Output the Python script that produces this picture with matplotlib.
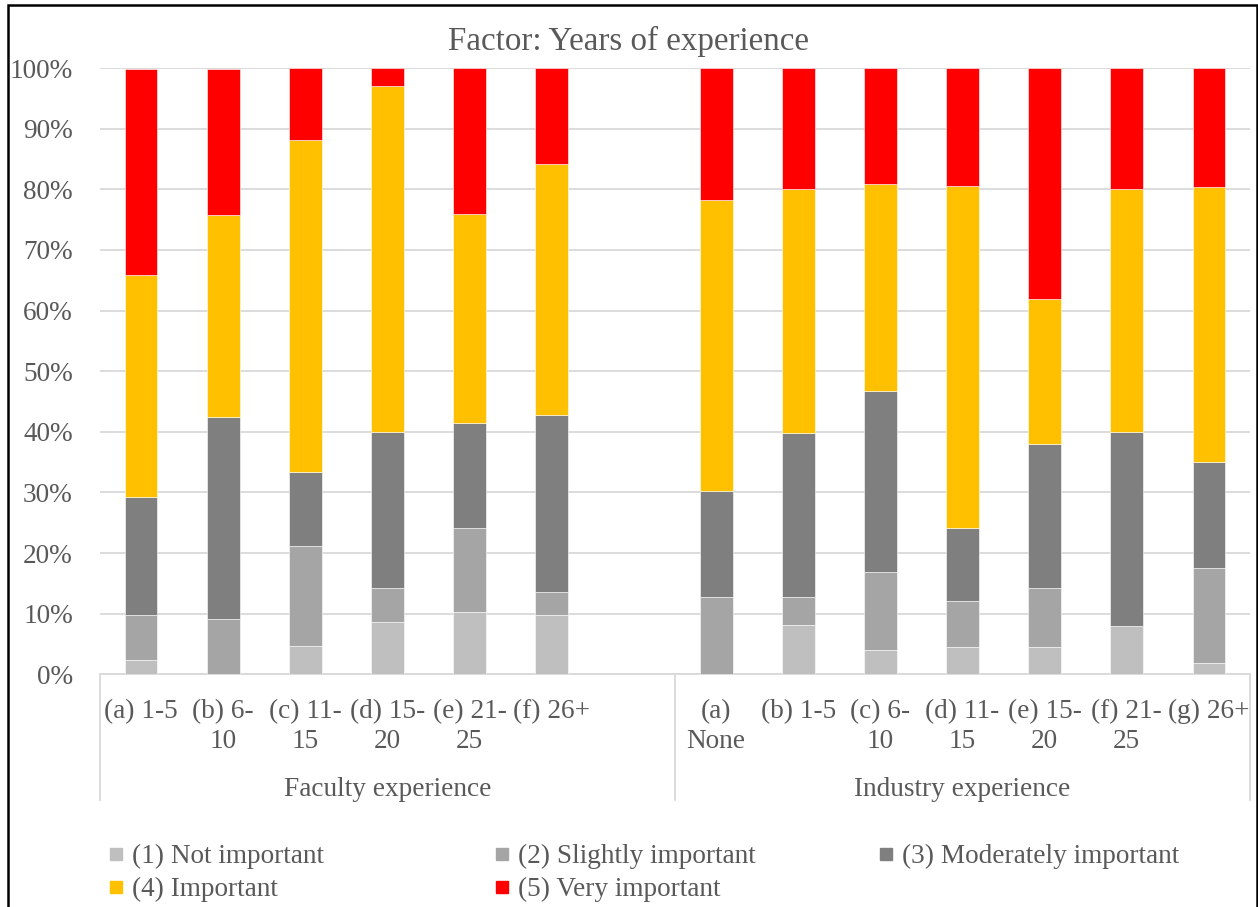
import matplotlib
matplotlib.use("Agg")
import matplotlib.pyplot as plt
from matplotlib.lines import Line2D
from matplotlib.patches import Rectangle
import numpy as np

plt.rcParams['font.family'] = ['Liberation Serif', 'DejaVu Serif']

# ---- data (percent of respondents) ----
title = "Factor: Years of experience"
group_names = ["Faculty experience", "Industry experience"]

faculty_labels = ["(a) 1-5", "(b) 6-\n10", "(c) 11-\n15", "(d) 15-\n20", "(e) 21-\n25", "(f) 26+"]
industry_labels = ["(a)\nNone", "(b) 1-5", "(c) 6-\n10", "(d) 11-\n15", "(e) 15-\n20", "(f) 21-\n25", "(g) 26+"]

series_names = ["(1) Not important", "(2) Slightly important", "(3) Moderately important",
                "(4) Important", "(5) Very important"]
series_colors = ["#BFBFBF", "#A5A5A5", "#7F7F7F", "#FFC000", "#FF0000"]

faculty_not_important = [2.4, 0.0, 4.7, 8.6, 10.3, 9.8]
faculty_slightly = [7.3, 9.1, 16.5, 5.7, 13.8, 3.8]
faculty_moderately = [19.5, 33.3, 12.1, 25.7, 17.3, 29.2]
faculty_important = [36.6, 33.3, 54.8, 57.1, 34.5, 41.4]
faculty_very = [34.1, 24.2, 11.9, 2.9, 24.1, 15.8]

industry_not_important = [0.0, 8.1, 4.0, 4.5, 4.5, 8.0, 1.9]
industry_slightly = [12.7, 4.6, 12.9, 7.6, 9.7, 0.0, 15.6]
industry_moderately = [17.5, 27.1, 29.9, 12.1, 23.8, 32.0, 17.5]
industry_important = [48.0, 40.2, 34.1, 56.3, 23.9, 40.0, 45.3]
industry_very = [21.8, 20.0, 19.1, 19.5, 38.1, 20.0, 19.7]

faculty_series = [faculty_not_important, faculty_slightly, faculty_moderately,
                  faculty_important, faculty_very]
industry_series = [industry_not_important, industry_slightly, industry_moderately,
                   industry_important, industry_very]

TEXT = "#595959"
GRID = "#D9D9D9"
FS = 19.6

W, H = 1258, 907
fig = plt.figure(figsize=(W / 100, H / 100), dpi=100)
ax = fig.add_axes([100 / W, 1 - 674.3 / H, 1150 / W, (674.3 - 68) / H])

# category slots: faculty group has an empty trailing slot
n_fac, n_ind = len(faculty_labels), len(industry_labels)
fac_x = np.arange(n_fac)
ind_x = n_fac + 1 + np.arange(n_ind)
bar_w = 0.4

for xs, series in ((fac_x, faculty_series), (ind_x, industry_series)):
    bottom = np.zeros(len(xs))
    for vals, col in zip(series, series_colors):
        vals = np.asarray(vals, dtype=float)
        ax.bar(xs, vals, bar_w, bottom=bottom, color=col, edgecolor="white",
               linewidth=0.4, zorder=3)
        bottom += vals

total_slots = n_fac + 1 + n_ind
ax.set_xlim(-0.5, total_slots - 0.5)
ax.set_ylim(0, 100)

ax.set_yticks(np.arange(0, 101, 10))
ax.set_yticklabels([f"{v}%" for v in range(0, 101, 10)])
ax.yaxis.grid(True, color=GRID, linewidth=1.3, zorder=0)
ax.set_axisbelow(True)

ax.set_xticks(np.concatenate([fac_x, ind_x]))
ax.set_xticklabels(faculty_labels + industry_labels, linespacing=1.25)

ax.tick_params(axis="y", length=0, pad=19.5, labelsize=FS, labelcolor=TEXT)
ax.tick_params(axis="x", length=0, pad=18, labelsize=FS, labelcolor=TEXT)

for side in ("left", "right", "top"):
    ax.spines[side].set_visible(False)
ax.spines["bottom"].set_color(GRID)
ax.spines["bottom"].set_linewidth(1.3)

# group separators and group labels below the category labels
xform = ax.get_xaxis_transform()
sep_depth = -(800 - 674.3) / (674.3 - 68)
for xsep in (-0.5, n_fac + 0.5, total_slots - 0.5):
    ax.add_line(Line2D([xsep, xsep], [0, sep_depth], transform=xform,
                       color=GRID, linewidth=1.3, clip_on=False))

label_y = -(790 - 674.3) / (674.3 - 68)
ax.text((-0.5 + n_fac + 0.5) / 2, label_y, group_names[0], transform=xform,
        ha="center", va="center", fontsize=FS, color=TEXT)
ax.text((n_fac + 0.5 + total_slots - 0.5) / 2, label_y, group_names[1], transform=xform,
        ha="center", va="center", fontsize=FS, color=TEXT)

fig.text(0.5, 1 - 41 / H, title, ha="center", va="center",
         fontsize=23.8, color=TEXT)

# legend laid out in three equal columns, two rows
handles = [Line2D([], [], linestyle="none", marker="s", markersize=9.2,
                  markerfacecolor=c, markeredgecolor=c) for c in series_colors]
columns = [[0, 3], [1, 4], [2]]
col_x = [108, 494, 878]
for cx, idxs in zip(col_x, columns):
    leg = fig.legend([handles[i] for i in idxs], [series_names[i] for i in idxs],
                     loc="upper left", bbox_to_anchor=(cx / W, 1 - 844 / H),
                     frameon=False, fontsize=FS, handlelength=0.6,
                     handletextpad=0.3, labelspacing=0.3, borderpad=0,
                     borderaxespad=0, labelcolor=TEXT)

# outer chart frame
fig.patches.append(Rectangle((8 / W, -0.05), (1257 - 8) / W, 1.05 - 5 / H,
                             transform=fig.transFigure, fill=False,
                             edgecolor="black", linewidth=1.8))

fig.savefig("out.png", dpi=100)
